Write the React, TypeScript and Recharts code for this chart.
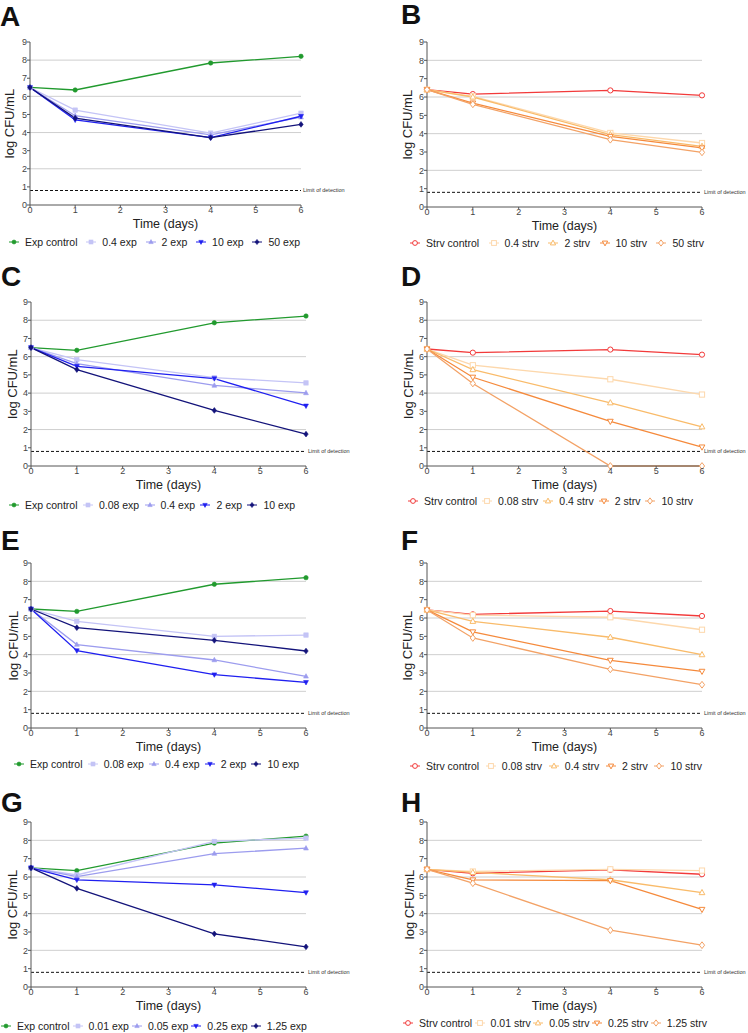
import { LineChart, Line, XAxis, YAxis, CartesianGrid, ReferenceLine } from 'recharts'

// sampling days and axis ticks
const days = [0, 1, 4, 6]
const xTicks = [0, 1, 2, 3, 4, 5, 6]
const yTicks = [0, 1, 2, 3, 4, 5, 6, 7, 8, 9]
const gridValues = [1, 2, 3, 4, 5, 6, 7, 8]
const detectionLimit = 0.8

// A
const namesA = ['Exp control', '0.4 exp', '2 exp', '10 exp', '50 exp']
const valuesA = [
  [6.49, 6.35, 7.84, 8.21],
  [6.49, 5.24, 3.97, 5.07],
  [6.49, 4.93, 3.87, 4.85],
  [6.49, 4.70, 3.72, 4.90],
  [6.49, 4.80, 3.72, 4.45],
]
// B
const namesB = ['Strv control', '0.4 strv', '2 strv', '10 strv', '50 strv']
const valuesB = [
  [6.40, 6.16, 6.36, 6.09],
  [6.40, 6.04, 4.04, 3.49],
  [6.40, 6.00, 3.95, 3.31],
  [6.40, 5.67, 3.85, 3.22],
  [6.40, 5.60, 3.67, 2.98],
]
// C
const namesC = ['Exp control', '0.08 exp', '0.4 exp', '2 exp', '10 exp']
const valuesC = [
  [6.50, 6.35, 7.86, 8.23],
  [6.50, 5.84, 4.85, 4.56],
  [6.50, 5.62, 4.42, 4.01],
  [6.50, 5.47, 4.80, 3.30],
  [6.50, 5.29, 3.05, 1.75],
]
// D
const namesD = ['Strv control', '0.08 strv', '0.4 strv', '2 strv', '10 strv']
const valuesD = [
  [6.42, 6.22, 6.39, 6.11],
  [6.42, 5.53, 4.76, 3.92],
  [6.42, 5.29, 3.47, 2.15],
  [6.42, 4.87, 2.45, 1.04],
  [6.42, 4.53, 0, 0],
]
// E
const namesE = ['Exp control', '0.08 exp', '0.4 exp', '2 exp', '10 exp']
const valuesE = [
  [6.49, 6.36, 7.84, 8.20],
  [6.49, 5.82, 5.00, 5.07],
  [6.49, 4.55, 3.71, 2.82],
  [6.49, 4.22, 2.91, 2.49],
  [6.49, 5.47, 4.78, 4.20],
]
// F
const namesF = ['Strv control', '0.08 strv', '0.4 strv', '2 strv', '10 strv']
const valuesF = [
  [6.44, 6.20, 6.38, 6.11],
  [6.44, 6.16, 6.04, 5.36],
  [6.44, 5.82, 4.95, 4.00],
  [6.44, 5.24, 3.69, 3.09],
  [6.44, 4.91, 3.20, 2.36],
]
// G
const namesG = ['Exp control', '0.01 exp', '0.05 exp', '0.25 exp', '1.25 exp']
const valuesG = [
  [6.50, 6.35, 7.85, 8.23],
  [6.50, 6.11, 7.94, 8.12],
  [6.50, 6.02, 7.28, 7.57],
  [6.50, 5.84, 5.57, 5.15],
  [6.50, 5.38, 2.90, 2.19],
]
// H
const namesH = ['Strv control', '0.01 strv', '0.05 strv', '0.25 strv', '1.25 strv']
const valuesH = [
  [6.42, 6.20, 6.39, 6.15],
  [6.42, 6.30, 6.42, 6.35],
  [6.42, 6.25, 5.85, 5.15],
  [6.42, 5.84, 5.80, 4.23],
  [6.42, 5.66, 3.10, 2.28],
]

const expColors = ['#219a2e', '#c4c4f6', '#9c9cee', '#1f1ff0', '#13137a']
const strvColors = ['#f23a3a', '#fdd8ac', '#f9bb6a', '#f58a3c', '#f3a266']
const shapes = ['circle', 'square', 'triangle', 'invTriangle', 'diamond']

const font = '"Liberation Sans", Arial, sans-serif'
const axisColor = '#555'

type Layout = {
  x: number; y: number
  plotLeft: number; plotRight: number; plotTop: number; plotBottom: number
  yLabelX: number
  legendLeft: number; legendRight: number; legendY: number
  letterX: number; letterBase: number
}

const panels = [
  { letter: 'A', names: namesA, values: valuesA, exp: true,
    l: { x: 0, y: 0, plotLeft: 30, plotRight: 301, plotTop: 42, plotBottom: 205, yLabelX: 9, legendLeft: 8, legendRight: 300, legendY: 242, letterX: 0, letterBase: 27 } },
  { letter: 'B', names: namesB, values: valuesB, exp: false,
    l: { x: 374, y: 0, plotLeft: 427, plotRight: 702, plotTop: 42, plotBottom: 207, yLabelX: 407, legendLeft: 409, legendRight: 704, legendY: 243, letterX: 401, letterBase: 25 } },
  { letter: 'C', names: namesC, values: valuesC, exp: true,
    l: { x: 0, y: 260, plotLeft: 31, plotRight: 306, plotTop: 302, plotBottom: 466, yLabelX: 12, legendLeft: 8, legendRight: 295, legendY: 505, letterX: 1, letterBase: 287 } },
  { letter: 'D', names: namesD, values: valuesD, exp: false,
    l: { x: 374, y: 260, plotLeft: 427, plotRight: 702, plotTop: 302, plotBottom: 466, yLabelX: 408, legendLeft: 407, legendRight: 693, legendY: 501, letterX: 401, letterBase: 287 } },
  { letter: 'E', names: namesE, values: valuesE, exp: true,
    l: { x: 0, y: 520, plotLeft: 31, plotRight: 306, plotTop: 563, plotBottom: 728, yLabelX: 13, legendLeft: 13, legendRight: 299, legendY: 764, letterX: 1, letterBase: 551 } },
  { letter: 'F', names: namesF, values: valuesF, exp: false,
    l: { x: 374, y: 520, plotLeft: 427, plotRight: 702, plotTop: 563, plotBottom: 728, yLabelX: 407, legendLeft: 409, legendRight: 702, legendY: 766, letterX: 401, letterBase: 551 } },
  { letter: 'G', names: namesG, values: valuesG, exp: true,
    l: { x: 0, y: 775, plotLeft: 31, plotRight: 306, plotTop: 822, plotBottom: 987, yLabelX: 12, legendLeft: 0, legendRight: 307, legendY: 1026, letterX: 1, letterBase: 813 } },
  { letter: 'H', names: namesH, values: valuesH, exp: false,
    l: { x: 374, y: 775, plotLeft: 427, plotRight: 702, plotTop: 822, plotBottom: 987, yLabelX: 409, legendLeft: 402, legendRight: 707, legendY: 1023, letterX: 401, letterBase: 813 } },
]

function Marker({ cx, cy, shape, color, filled, r }: { cx: number; cy: number; shape: string; color: string; filled: boolean; r: number }) {
  const fill = filled ? color : '#fff'
  const common = { fill, stroke: color, strokeWidth: filled ? 0.6 : 1 }
  if (shape === 'circle') return <circle cx={cx} cy={cy} r={r} {...common} />
  if (shape === 'square') return <rect x={cx - r} y={cy - r} width={r * 2} height={r * 2} {...common} />
  if (shape === 'triangle')
    return <polygon points={`${cx},${cy - r * 1.2} ${cx + r * 1.1},${cy + r * 0.8} ${cx - r * 1.1},${cy + r * 0.8}`} {...common} />
  if (shape === 'invTriangle')
    return <polygon points={`${cx},${cy + r * 1.2} ${cx + r * 1.1},${cy - r * 0.8} ${cx - r * 1.1},${cy - r * 0.8}`} {...common} />
  return <polygon points={`${cx},${cy - r * 1.3} ${cx + r},${cy} ${cx},${cy + r * 1.3} ${cx - r},${cy}`} {...common} />
}

function LegendRow({ names, colors, filled, l }: { names: string[]; colors: string[]; filled: boolean; l: Layout }) {
  return (
    <div style={{
      position: 'absolute', left: l.legendLeft, top: l.legendY - 8, width: l.legendRight - l.legendLeft, height: 16,
      display: 'flex', justifyContent: 'space-between', alignItems: 'center',
      fontFamily: font, fontSize: 10.5, color: '#222', whiteSpace: 'nowrap',
    }}>
      {names.map((n, i) => (
        <div key={n} style={{ display: 'flex', alignItems: 'center' }}>
          <svg width={12} height={10} style={{ marginRight: 5 }}>
            <line x1={1} y1={5} x2={11} y2={5} stroke={colors[i]} strokeWidth={1} />
            <Marker cx={6} cy={5} shape={shapes[i]} color={colors[i]} filled={filled} r={filled ? 2 : 2.4} />
          </svg>
          <span>{n}</span>
        </div>
      ))}
    </div>
  )
}

function Panel({ letter, names, values, exp, l }: { letter: string; names: string[]; values: number[][]; exp: boolean; l: Layout }) {
  const colors = exp ? expColors : strvColors
  const data = days.map((d, i) => {
    const row: Record<string, number> = { day: d }
    values.forEach((v, j) => { row['s' + j] = v[i] })
    return row
  })
  const xAxisH = 26
  const w = 374
  const h = l.plotBottom - l.y + xAxisH

  return (
    <>
      <div style={{
        position: 'absolute', left: l.letterX, top: l.letterBase - 24, fontFamily: font, fontWeight: 'bold',
        fontSize: 28, lineHeight: '28px', color: '#111',
      }}>{letter}</div>
      <div style={{ position: 'absolute', left: l.x, top: l.y }}>
        <LineChart width={w} height={h} data={data}
          margin={{ top: l.plotTop - l.y, right: l.x + w - l.plotRight, left: 0, bottom: 0 }}>
          <CartesianGrid horizontal vertical={false} horizontalValues={gridValues} stroke="#cfcfcf" />
          <XAxis dataKey="day" type="number" domain={[0, 6]} ticks={xTicks} height={xAxisH}
            tick={{ fill: '#444', fontSize: 9 }} tickSize={2} tickMargin={0}
            stroke={axisColor} tickLine={{ stroke: axisColor }}
            label={{ value: 'Time (days)', position: 'insideBottom', offset: 3, fill: '#222', fontSize: 12.5 }} />
          <YAxis type="number" domain={[0, 9]} ticks={yTicks} width={l.plotLeft - l.x}
            tick={{ fill: '#444', fontSize: 9 }} tickSize={3} tickMargin={0}
            stroke={axisColor} tickLine={{ stroke: axisColor }}
            label={{ value: 'log CFU/mL', angle: -90, position: 'insideLeft', offset: l.yLabelX - l.x, fill: '#222', fontSize: 13, style: { textAnchor: 'middle' } }} />
          <ReferenceLine y={detectionLimit} stroke="#111" strokeDasharray="3 2"
            label={{ value: 'Limit of detection', position: 'right', offset: 2, fontSize: 5.5, fill: '#333' }} />
          {values.map((_, j) => (
            <Line key={j} type="linear" dataKey={'s' + j} stroke={colors[j]} strokeWidth={1.3}
              isAnimationActive={false}
              dot={(p: any) => (
                <Marker key={`d${j}-${p.index}`} cx={p.cx} cy={p.cy} shape={shapes[j]} color={colors[j]}
                  filled={exp} r={exp ? 2.2 : 2.6} />
              )}
              activeDot={false} />
          ))}
        </LineChart>
      </div>
      <LegendRow names={names} colors={colors} filled={exp} l={l} />
    </>
  )
}

export default function App() {
  return (
    <div style={{ position: 'absolute', left: 0, top: 0, width: 748, height: 1033, background: '#fff', fontFamily: font }}>
      {panels.map(p => (
        <Panel key={p.letter} letter={p.letter} names={p.names} values={p.values} exp={p.exp} l={p.l} />
      ))}
    </div>
  )
}
